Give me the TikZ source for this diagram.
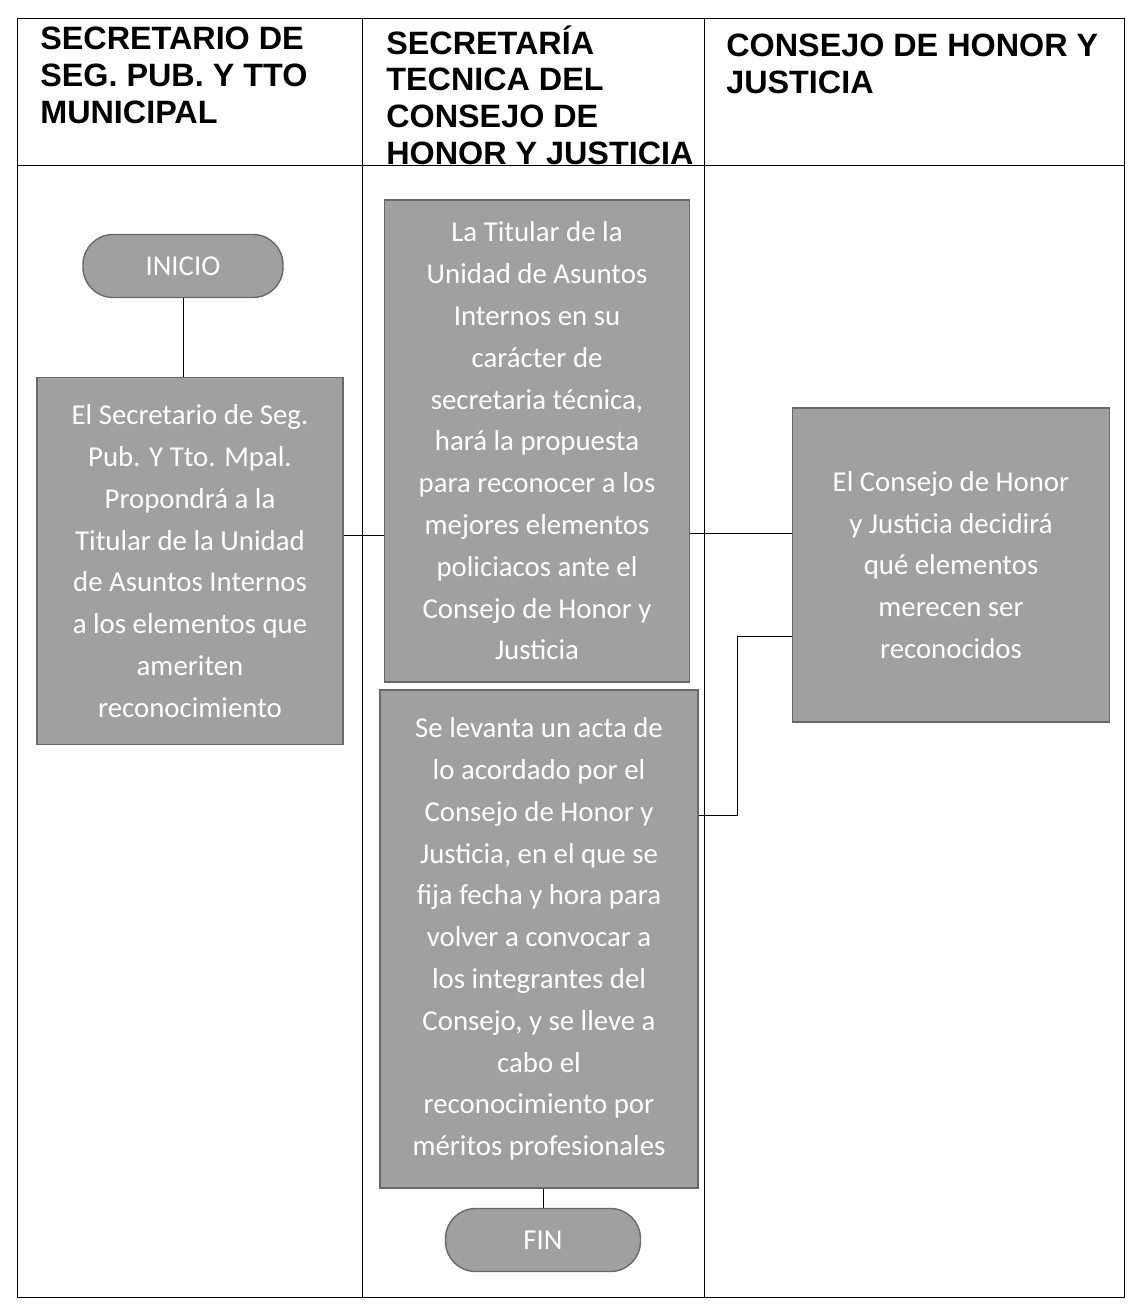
\documentclass[tikz,border=0pt]{standalone}
\usepackage{fontspec}
\newfontfamily\boxfont{Carlito}
\newfontfamily\headfont{Liberation Sans}
\definecolor{boxgray}{RGB}{160,160,160}
\definecolor{boxedge}{RGB}{105,105,105}
\tikzset{
  proc/.style={draw=boxedge, line width=0.8pt, fill=boxgray, text=white, align=center,
    inner sep=2pt, font=\boxfont\fontsize{16.4}{23.8}\selectfont},
  term/.style={proc, rounded corners=0.6cm, minimum width=4cm, minimum height=1.26cm},
  lanehead/.style={anchor=north west, inner sep=0pt, align=left,
    font=\headfont\bfseries\fontsize{18.4}{21}\selectfont},
}
\begin{document}
\begin{tikzpicture}[x=0.02cm, y=-0.02cm]
  \useasboundingbox (0,0) rectangle (1128,1309);
  % lanes
  \draw (17,18) rectangle (1124,1297);
  \draw (17,165) -- (1124,165);
  \draw (362,18) -- (362,1297);
  \draw (704,18) -- (704,1297);
  \node [lanehead] (h1) at (40,27) {SECRETARIO DE\\SEG. PUB. Y TTO\\MUNICIPAL};
  \node [lanehead] (h2) at (386,25) {SECRETARÍA\\TECNICA DEL\\CONSEJO DE\\HONOR Y JUSTICIA};
  \node [lanehead] (h3) at (726,34) {CONSEJO DE HONOR Y\\JUSTICIA};
  % steps
  \node [term] (inicio) at (183,266) {INICIO};
  \node [proc, minimum width=6.12cm, minimum height=7.34cm] (propone) at (190,561)
    {El Secretario de Seg.\\Pub. Y Tto. Mpal.\\Propondrá a la\\Titular de la Unidad\\de Asuntos Internos\\a los elementos que\\ameriten\\reconocimiento};
  \node [proc, minimum width=6.1cm, minimum height=9.64cm] (propuesta) at (537,441)
    {La Titular de la\\Unidad de Asuntos\\Internos en su\\carácter de\\secretaria técnica,\\hará  la propuesta\\para reconocer a los\\mejores elementos\\policiacos ante el\\Consejo de Honor y\\Justicia};
  \node [proc, minimum width=6.36cm, minimum height=9.96cm] (acta) at (539,939)
    {Se levanta un acta de\\lo acordado por el\\Consejo de Honor y\\Justicia, en el que se\\fija fecha y hora para\\volver a convocar a\\los integrantes del\\Consejo, y se lleve a\\cabo el\\reconocimiento por\\méritos profesionales};
  \node [term, minimum width=3.9cm] (fin) at (543,1240) {FIN};
  \node [proc, minimum width=6.34cm, minimum height=6.28cm] (decide) at (951,565)
    {El Consejo de Honor\\y Justicia decidirá\\qué elementos\\merecen ser\\reconocidos};
  % connectors
  \draw (inicio.south) -- (inicio.south |- propone.north);
  \draw ([yshift=0.52cm]propone.east) coordinate (a) -- (a -| propuesta.west);
  \draw ([yshift=-1.84cm]propuesta.east) coordinate (b) -- (b -| decide.west);
  \coordinate (jog) at (737,815);
  \draw ([yshift=-1.42cm]decide.west) -| (jog) -- (jog -| acta.east);
  \draw (acta.south -| fin.north) -- (fin.north);
\end{tikzpicture}
\end{document}
